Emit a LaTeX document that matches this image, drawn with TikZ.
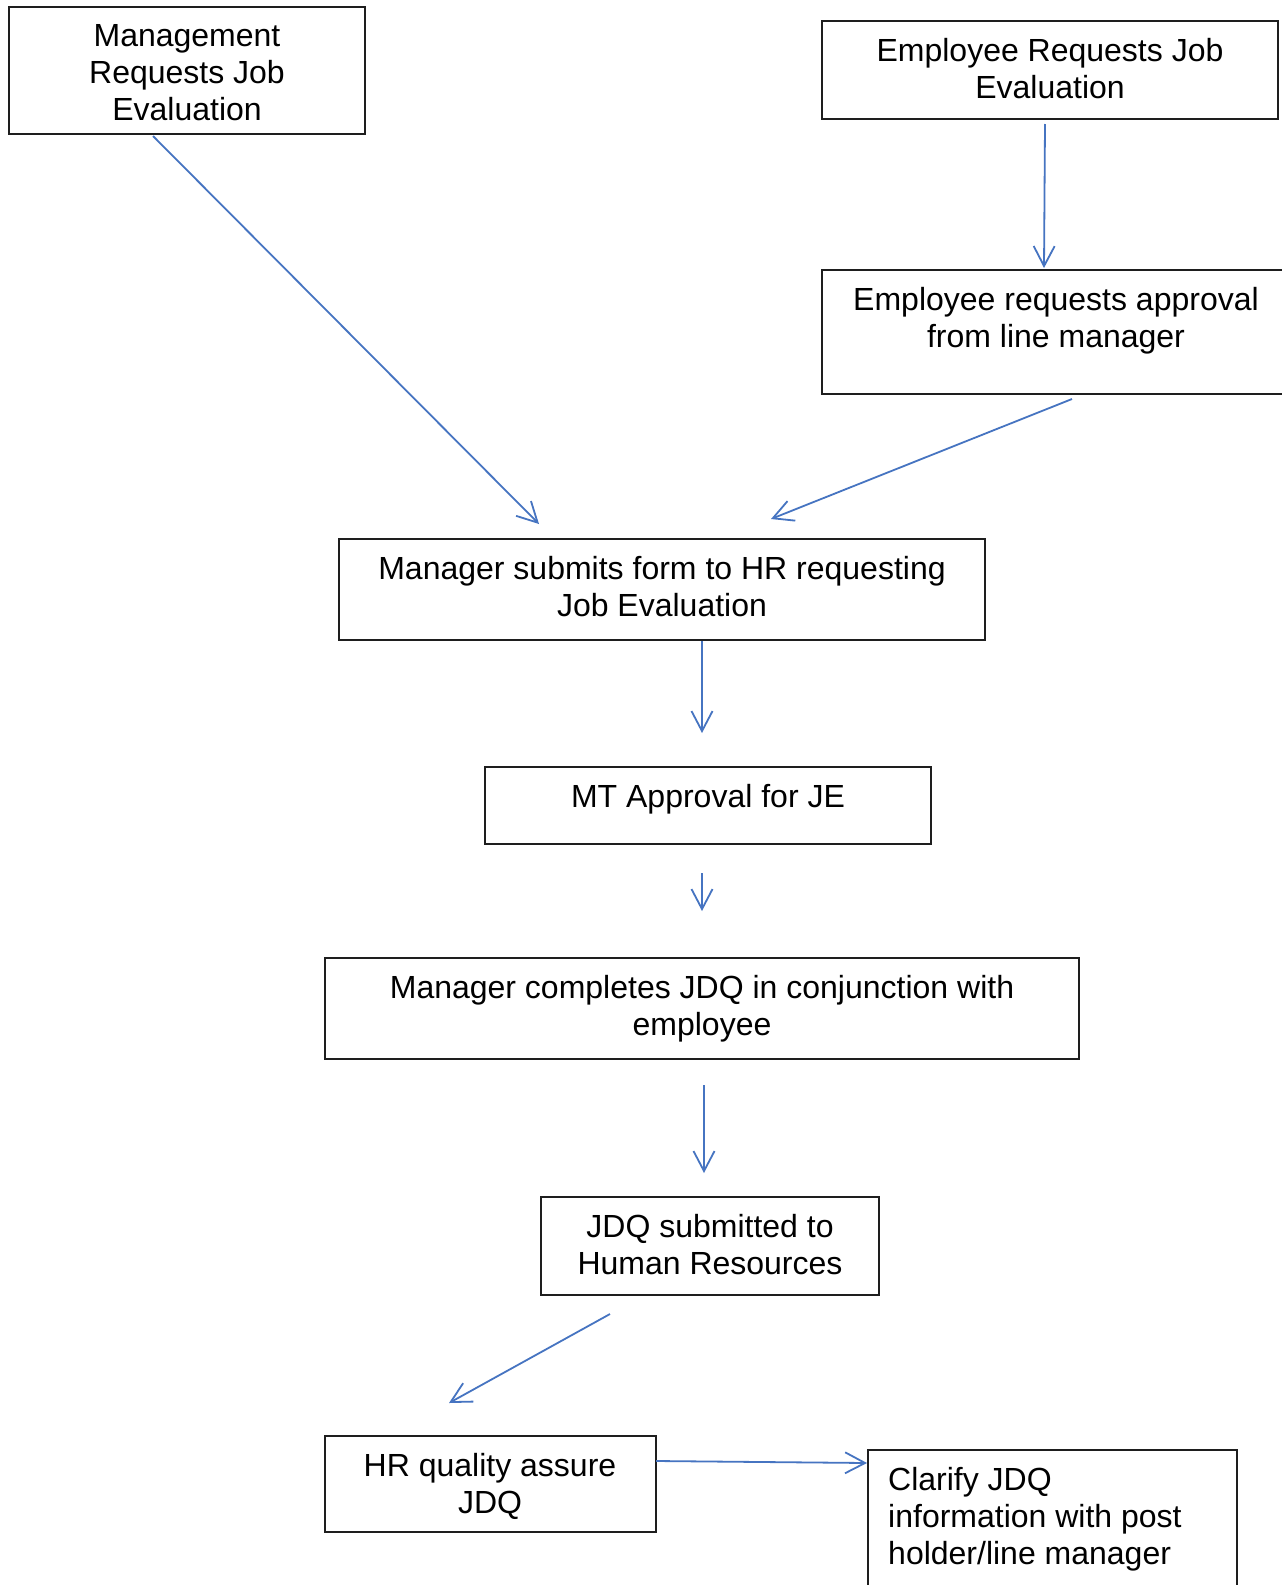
\documentclass[tikz,border=0pt]{standalone}
\usepackage{fontspec}
\setmainfont{Liberation Sans}
\usetikzlibrary{arrows.meta}
\definecolor{arrowblue}{RGB}{70,116,193}
\definecolor{boxline}{RGB}{30,30,30}
\begin{document}
\begin{tikzpicture}[x=1pt,y=-1pt,
  box/.style={draw=boxline, line width=1.4pt, inner sep=0pt, outer sep=0pt, anchor=north west},
  txt/.style={anchor=north, inner sep=0pt, align=center, font=\fontsize{32}{36.8}\selectfont},
  flow/.style={draw=arrowblue, line width=1.8pt, -{Straight Barb[length=20pt,width=21pt,line width=1.8pt]}}]
\useasboundingbox[fill=white] (0,0) rectangle (1282,1585);

% boxes
\node[box, minimum width=356pt, minimum height=127pt] (b1) at (9,7) {};
\node[box, minimum width=456pt, minimum height=98pt] (b2) at (822,21) {};
\node[box, minimum width=470pt, minimum height=124pt] (b3) at (822,270) {};
\node[box, minimum width=646pt, minimum height=101pt] (b4) at (339,539) {};
\node[box, minimum width=446pt, minimum height=77pt] (b5) at (485,767) {};
\node[box, minimum width=754pt, minimum height=101pt] (b6) at (325,958) {};
\node[box, minimum width=338pt, minimum height=98pt] (b7) at (541,1197) {};
\node[box, minimum width=331pt, minimum height=96pt] (b8) at (325,1436) {};
\node[box, minimum width=369pt, minimum height=170pt] (b9) at (868,1450) {};

% texts
\node[txt] (t1) at (187,24.5) {Management\\Requests Job\\Evaluation};
\node[txt] (t2) at (1050,38.5) {Employee Requests Job\\Evaluation};
\node[txt] (t3) at (1056,287.5) {Employee requests approval\\from line manager};
\node[txt] (t4) at (662,556.5) {Manager submits form to HR requesting\\Job Evaluation};
\node[txt] (t5) at (708,784.5) {MT Approval for JE};
\node[txt] (t6) at (702,975.5) {Manager completes JDQ in conjunction with\\employee};
\node[txt] (t7) at (710,1214.5) {JDQ submitted to\\Human Resources};
\node[txt] (t8) at (490,1453.5) {HR quality assure\\JDQ};
\node[txt, anchor=north west, align=left] (t9) at (888,1467.5) {Clarify JDQ\\information with post\\holder/line manager};

% connector end points
\coordinate (a1s) at (153,136);  \coordinate (a1e) at (539,524);
\coordinate (a2s) at (1045,124); \coordinate (a2e) at (1044,268);
\coordinate (a3s) at (1072,399); \coordinate (a3e) at (771,519);
\coordinate (a4s) at (702,641);  \coordinate (a4e) at (702,733);
\coordinate (a5s) at (702,873);  \coordinate (a5e) at (702,911);
\coordinate (a6s) at (704,1085); \coordinate (a6e) at (704,1173);
\coordinate (a7s) at (610,1314); \coordinate (a7e) at (449,1403);
\coordinate (a8s) at (656,1461); \coordinate (a8e) at (867,1463);

\draw[flow] (a1s) -- (a1e);
\draw[flow] (a2s) -- (a2e);
\draw[flow] (a3s) -- (a3e);
\draw[flow] (a4s) -- (a4e);
\draw[flow] (a5s) -- (a5e);
\draw[flow] (a6s) -- (a6e);
\draw[flow] (a7s) -- (a7e);
\draw[flow] (a8s) -- (a8e);
\end{tikzpicture}
\end{document}
